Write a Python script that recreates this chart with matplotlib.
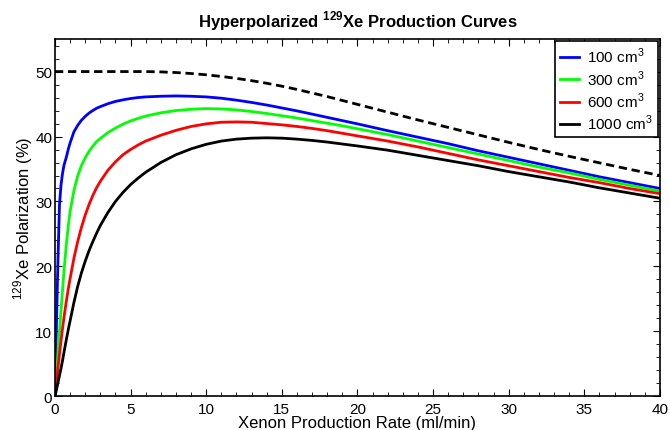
import numpy as np
import matplotlib
matplotlib.use('Agg')
import matplotlib.pyplot as plt
from matplotlib.ticker import MultipleLocator

plt.rcParams['font.family'] = ['Liberation Sans', 'DejaVu Sans']
plt.rcParams['mathtext.fontset'] = 'custom'
plt.rcParams['mathtext.rm'] = 'Liberation Sans'
plt.rcParams['mathtext.bf'] = 'Liberation Sans:bold'

# production rate (ml/min)
rate = [0, 0.1, 0.2, 0.3, 0.4, 0.5, 0.6, 0.75, 0.9, 1, 1.25, 1.5, 1.75, 2, 2.25, 2.5,
        2.75, 3, 3.5, 4, 4.5, 5, 5.5, 6,
        7, 8, 9, 10, 11, 12, 13, 14, 15, 16, 17, 18, 19, 20,
        22, 24, 26, 28, 30, 32, 34, 36, 38, 40]

# 129Xe polarization (%) per cell volume
pol_100 = [0, 11, 21, 29.5, 32.5, 34.3, 35.6, 36.8, 38.2, 39.0, 40.7, 41.7, 42.5, 43.1,
           43.6, 44.0, 44.35, 44.6, 45.05, 45.4, 45.65, 45.85, 46.0, 46.1,
           46.2, 46.25, 46.2, 46.1, 45.9, 45.6, 45.25, 44.85, 44.4, 43.95, 43.45,
           42.95, 42.45, 41.95,
           40.9, 39.9, 38.9, 37.8, 36.8, 35.8, 34.8, 33.8, 32.9, 32.0]
pol_300 = [0, 3.3, 6.6, 10, 13.2, 16.3, 19.3, 23.3, 26.6, 28.4, 31.6, 33.9, 35.5, 36.7,
           37.7, 38.5, 39.2, 39.7, 40.6, 41.3, 41.9, 42.4, 42.8, 43.15,
           43.65, 44.0, 44.2, 44.3, 44.25, 44.1, 43.85, 43.55, 43.2, 42.85, 42.45,
           42.05, 41.65, 41.2,
           40.3, 39.3, 38.3, 37.3, 36.3, 35.3, 34.4, 33.4, 32.5, 31.6]
pol_600 = [0, 2.2, 4.4, 6.5, 8.5, 10.4, 12.2, 14.6, 16.8, 18.1, 21.2, 23.8, 26.0, 27.9,
           29.5, 30.9, 32.1, 33.1, 34.8, 36.1, 37.2, 38.0, 38.7, 39.3,
           40.2, 40.95, 41.55, 41.95, 42.2, 42.25, 42.2, 42.0, 41.8, 41.55, 41.25,
           40.9, 40.5, 40.1,
           39.3, 38.4, 37.4, 36.4, 35.5, 34.6, 33.7, 32.9, 32.0, 31.2]
pol_1000 = [0, 1.0, 2.1, 3.2, 4.3, 5.5, 6.8, 8.7, 10.5, 11.6, 14.4, 16.9, 19.0, 20.8,
            22.4, 23.8, 25.1, 26.3, 28.3, 30.0, 31.4, 32.6, 33.6, 34.5,
            36.0, 37.2, 38.1, 38.8, 39.3, 39.6, 39.75, 39.8, 39.75, 39.6, 39.4,
            39.15, 38.85, 38.55,
            37.9, 37.1, 36.3, 35.5, 34.6, 33.8, 33.0, 32.1, 31.3, 30.5]
# upper limit (dashed)
pol_max = [50, 50, 50, 50, 50, 50, 50, 50, 50, 50, 50, 50, 50, 50, 50, 50, 50, 50,
           50, 50, 50, 50, 50, 50,
           49.95, 49.85, 49.7, 49.5, 49.25, 48.95, 48.6, 48.2, 47.75, 47.25, 46.7,
           46.15, 45.55, 44.95,
           43.75, 42.55, 41.4, 40.25, 39.1, 38.0, 36.95, 35.95, 34.95, 34.0]

labels = ['100 cm$^3$', '300 cm$^3$', '600 cm$^3$', '1000 cm$^3$']
colors = ['#0000ff', '#00ff00', '#ff0000', '#000000']

fig = plt.figure(figsize=(6.70, 4.31), dpi=100)
ax = fig.add_axes([0.082, 0.078, 0.903, 0.829])

for series, lab, col in zip([pol_100, pol_300, pol_600, pol_1000], labels, colors):
    ax.plot(rate, series, color=col, linewidth=2, label=lab)
ax.plot(rate, pol_max, color='k', linewidth=2, linestyle=(0, (3, 1.7)))

ax.set_xlim(0, 40)
ax.set_ylim(0, 55)
ax.xaxis.set_major_locator(MultipleLocator(5))
ax.xaxis.set_minor_locator(MultipleLocator(1))
ax.yaxis.set_major_locator(MultipleLocator(10))
ax.yaxis.set_minor_locator(MultipleLocator(2))
ax.tick_params(which='both', direction='in', top=True, right=True, labelsize=11)
ax.tick_params(axis='x', pad=4)
ax.tick_params(axis='y', pad=2)
ax.tick_params(which='major', length=5)
ax.tick_params(which='minor', length=3)
plt.setp(ax.spines.values(), linewidth=1.2)

ax.set_xlabel('Xenon Production Rate (ml/min)', fontsize=12, labelpad=-0.5)
ax.set_ylabel('$^{129}$Xe Polarization (%)', fontsize=12, labelpad=0)
ax.set_title(r'Hyperpolarized $^{\mathbf{129}}$Xe Production Curves',
             fontsize=12, fontweight='bold', pad=9)

leg = ax.legend(loc='upper right', fontsize=11, handlelength=1.3, handletextpad=0.5,
                borderaxespad=0.15, borderpad=0.3, fancybox=False, framealpha=1,
                labelspacing=0.2)
leg.get_frame().set_edgecolor('k')
leg.get_frame().set_linewidth(1.2)

fig.savefig('out.png', dpi=100)
